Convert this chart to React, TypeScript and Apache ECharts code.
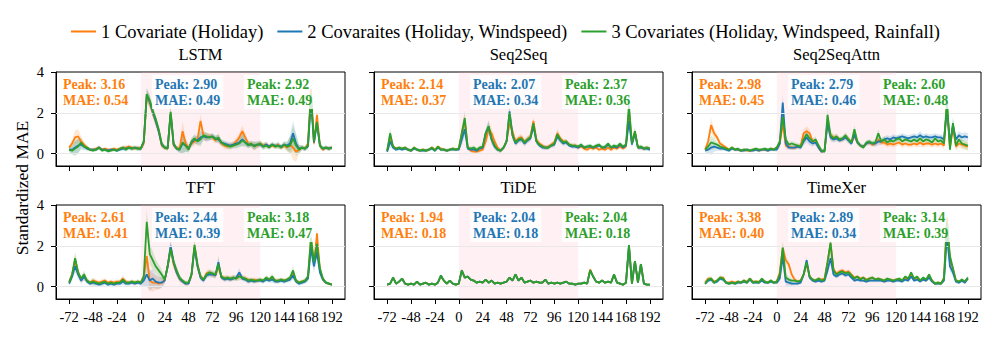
import React, { useEffect, useRef } from 'react';
import * as echarts from 'echarts';

// Hours relative to event start (3-hour steps)
const hours = [
  -72, -69, -66, -63, -60, -57, -54, -51, -48, -45,
  -42, -39, -36, -33, -30, -27, -24, -21, -18, -15,
  -12, -9, -6, -3, 0, 3, 6, 9, 12, 15,
  18, 21, 24, 27, 30, 33, 36, 39, 42, 45,
  48, 51, 54, 57, 60, 63, 66, 69, 72, 75,
  78, 81, 84, 87, 90, 93, 96, 99, 102, 105,
  108, 111, 114, 117, 120, 123, 126, 129, 132, 135,
  138, 141, 144, 147, 150, 153, 156, 159, 162, 165,
  168, 171, 174, 177, 180, 183, 186, 189, 192,
];

const models = ['LSTM', 'Seq2Seq', 'Seq2SeqAttn', 'TFT', 'TiDE', 'TimeXer'];
const seriesNames = [
  '1 Covariate (Holiday)',
  '2 Covaraites (Holiday, Windspeed)',
  '3 Covariates (Holiday, Windspeed, Rainfall)',
];
const colors = ['#ff7f0e', '#1f77b4', '#2ca02c'];
const xTicks = [-72, -48, -24, 0, 24, 48, 72, 96, 120, 144, 168, 192];
const yTicks = [0, 2, 4];
const eventWindow = [0, 120];

const peakValues = [
  [3.16, 2.90, 2.92],
  [2.14, 2.07, 2.37],
  [2.98, 2.79, 2.60],
  [2.61, 2.44, 3.18],
  [1.94, 2.04, 2.04],
  [3.38, 2.89, 3.14],
];
const maeValues = [
  [0.54, 0.49, 0.49],
  [0.37, 0.34, 0.36],
  [0.45, 0.46, 0.48],
  [0.41, 0.39, 0.47],
  [0.18, 0.18, 0.18],
  [0.40, 0.34, 0.39],
];

// ---------- LSTM ----------
const lstmHoliday = [
  0.3, 0.5, 0.8, 0.85, 0.6, 0.45, 0.3, 0.2, 0.2, 0.25,
  0.3, 0.2, 0.25, 0.2, 0.2, 0.25, 0.2, 0.25, 0.3, 0.3,
  0.35, 0.3, 0.25, 0.3, 0.25, 0.5, 2.8, 2.5, 2.0, 1.6,
  1.1, 0.4, 0.3, 0.25, 2.0, 0.4, 0.3, 0.25, 1.1, 0.5,
  0.3, 0.5, 0.6, 0.7, 1.6, 0.9, 0.8, 0.85, 0.8, 0.65,
  0.75, 0.5, 0.4, 0.35, 0.4, 0.45, 0.6, 0.8, 1.1, 0.8,
  0.5, 0.45, 0.4, 0.4, 0.5, 0.4, 0.45, 0.35, 0.4, 0.35,
  0.45, 0.3, 0.4, 0.3, 0.45, 0.3, 0.1, 0.2, 0.3, 0.25,
  0.5, 3.16, 0.5, 1.9, 0.4, 0.2, 0.3, 0.25, 0.3,
];
const lstmWindspeed = [
  0.2, 0.2, 0.3, 0.4, 0.45, 0.35, 0.25, 0.2, 0.2, 0.2,
  0.3, 0.2, 0.2, 0.15, 0.2, 0.2, 0.15, 0.2, 0.25, 0.25,
  0.3, 0.25, 0.3, 0.25, 0.25, 0.6, 2.9, 2.55, 2.05, 1.6,
  1.1, 0.45, 0.3, 0.3, 2.0, 0.45, 0.25, 0.2, 0.5, 0.4,
  0.25, 0.55, 0.7, 0.65, 0.8, 0.85, 0.8, 0.8, 0.85, 0.75,
  0.7, 0.55, 0.5, 0.45, 0.4, 0.45, 0.5, 0.55, 0.7, 0.55,
  0.45, 0.45, 0.4, 0.45, 0.45, 0.35, 0.45, 0.35, 0.45, 0.4,
  0.4, 0.35, 0.45, 0.4, 0.5, 1.0, 0.5, 0.25, 0.3, 0.25,
  0.35, 2.6, 0.55, 1.5, 0.4, 0.25, 0.3, 0.25, 0.3,
];
const lstmRainfall = [
  0.2, 0.15, 0.25, 0.35, 0.55, 0.35, 0.3, 0.2, 0.15, 0.2,
  0.3, 0.15, 0.2, 0.12, 0.15, 0.2, 0.15, 0.25, 0.3, 0.2,
  0.3, 0.25, 0.3, 0.25, 0.25, 0.6, 2.92, 2.6, 2.1, 1.7,
  1.2, 0.5, 0.3, 0.25, 2.05, 0.5, 0.25, 0.2, 0.55, 0.4,
  0.2, 0.6, 0.75, 0.6, 0.7, 0.9, 0.85, 0.8, 0.85, 0.7,
  0.8, 0.55, 0.45, 0.4, 0.35, 0.4, 0.45, 0.5, 0.65, 0.55,
  0.4, 0.5, 0.35, 0.45, 0.5, 0.35, 0.4, 0.3, 0.45, 0.35,
  0.4, 0.3, 0.45, 0.35, 0.4, 0.75, 0.4, 0.2, 0.3, 0.25,
  0.4, 2.92, 0.6, 1.55, 0.4, 0.25, 0.3, 0.25, 0.3,
];
const lstmSpread = [
  0.1, 0.2, 0.35, 0.35, 0.25, 0.15, 0.1, 0.08, 0.08, 0.08,
  0.1, 0.08, 0.08, 0.08, 0.08, 0.08, 0.08, 0.08, 0.1, 0.1,
  0.1, 0.1, 0.1, 0.1, 0.1, 0.2, 0.3, 0.3, 0.25, 0.25,
  0.2, 0.15, 0.1, 0.1, 0.3, 0.15, 0.1, 0.15, 0.5, 0.3,
  0.15, 0.2, 0.2, 0.2, 0.35, 0.2, 0.2, 0.15, 0.15, 0.15,
  0.2, 0.15, 0.15, 0.15, 0.15, 0.15, 0.2, 0.2, 0.3, 0.2,
  0.15, 0.15, 0.2, 0.15, 0.15, 0.15, 0.15, 0.12, 0.12, 0.12,
  0.15, 0.12, 0.15, 0.2, 0.4, 0.6, 0.5, 0.2, 0.12, 0.12,
  0.15, 0.4, 0.2, 0.3, 0.15, 0.1, 0.1, 0.1, 0.1,
];

// ---------- Seq2Seq ----------
const s2sHoliday = [
  0.15, 0.8, 0.35, 0.25, 0.3, 0.25, 0.3, 0.2, 0.15, 0.3,
  0.2, 0.15, 0.2, 0.15, 0.2, 0.3, 0.2, 0.35, 0.25, 0.2,
  0.15, 0.2, 0.25, 0.2, 0.25, 1.0, 1.6, 0.3, 0.15, 0.1,
  0.1, 0.15, 0.2, 0.6, 1.2, 1.0, 0.6, 0.3, 0.15, 0.3,
  0.6, 1.5, 1.1, 0.6, 0.75, 0.8, 0.6, 0.7, 0.85, 1.6,
  0.7, 0.5, 0.4, 0.3, 0.35, 0.45, 0.55, 1.0, 0.75, 0.6,
  0.6, 0.45, 0.4, 0.4, 0.3, 0.35, 0.25, 0.2, 0.3, 0.25,
  0.3, 0.2, 0.25, 0.2, 0.3, 0.2, 0.3, 0.25, 0.35, 0.25,
  0.35, 2.14, 0.5, 1.1, 0.3, 0.3, 0.25, 0.3, 0.25,
];
const s2sWindspeed = [
  0.1, 0.6, 0.3, 0.2, 0.25, 0.2, 0.25, 0.2, 0.15, 0.25,
  0.2, 0.15, 0.15, 0.15, 0.2, 0.25, 0.15, 0.3, 0.2, 0.2,
  0.15, 0.2, 0.2, 0.2, 0.2, 0.7, 1.2, 0.25, 0.2, 0.2,
  0.15, 0.25, 0.3, 1.0, 1.3, 0.7, 0.35, 0.2, 0.15, 0.3,
  0.6, 2.07, 0.9, 0.5, 0.65, 0.7, 0.5, 0.65, 0.75, 1.35,
  0.6, 0.4, 0.3, 0.3, 0.3, 0.4, 0.45, 0.85, 0.65, 0.5,
  0.55, 0.4, 0.35, 0.35, 0.3, 0.4, 0.3, 0.35, 0.35, 0.3,
  0.35, 0.4, 0.3, 0.3, 0.45, 0.3, 0.35, 0.3, 0.45, 0.3,
  0.4, 1.6, 0.45, 1.0, 0.3, 0.3, 0.25, 0.25, 0.2,
];
const s2sRainfall = [
  0.15, 1.0, 0.35, 0.25, 0.3, 0.25, 0.3, 0.2, 0.15, 0.3,
  0.2, 0.15, 0.2, 0.15, 0.2, 0.3, 0.15, 0.35, 0.2, 0.2,
  0.15, 0.2, 0.25, 0.2, 0.25, 1.0, 1.75, 0.3, 0.25, 0.3,
  0.2, 0.3, 0.35, 1.0, 1.35, 0.7, 0.4, 0.2, 0.15, 0.3,
  0.6, 2.0, 0.9, 0.55, 0.7, 0.75, 0.55, 0.7, 0.8, 1.5,
  0.6, 0.45, 0.35, 0.3, 0.3, 0.4, 0.5, 0.95, 0.7, 0.55,
  0.6, 0.45, 0.4, 0.4, 0.35, 0.45, 0.3, 0.35, 0.4, 0.3,
  0.4, 0.45, 0.3, 0.35, 0.5, 0.3, 0.4, 0.35, 0.5, 0.35,
  0.45, 2.37, 0.5, 1.1, 0.3, 0.35, 0.25, 0.3, 0.25,
];
const s2sSpread = [
  0.08, 0.3, 0.1, 0.08, 0.08, 0.08, 0.08, 0.08, 0.08, 0.08,
  0.08, 0.08, 0.08, 0.08, 0.08, 0.08, 0.08, 0.08, 0.08, 0.08,
  0.08, 0.08, 0.08, 0.08, 0.08, 0.3, 0.35, 0.1, 0.1, 0.1,
  0.1, 0.1, 0.1, 0.2, 0.3, 0.25, 0.15, 0.1, 0.1, 0.1,
  0.15, 0.3, 0.2, 0.15, 0.15, 0.15, 0.15, 0.15, 0.15, 0.2,
  0.15, 0.1, 0.1, 0.1, 0.1, 0.1, 0.15, 0.2, 0.15, 0.12,
  0.12, 0.1, 0.1, 0.1, 0.1, 0.1, 0.1, 0.1, 0.1, 0.1,
  0.1, 0.1, 0.1, 0.1, 0.1, 0.1, 0.1, 0.1, 0.1, 0.1,
  0.1, 0.3, 0.15, 0.2, 0.1, 0.1, 0.1, 0.1, 0.1,
];

// ---------- Seq2SeqAttn ----------
const attnHoliday = [
  0.2, 0.6, 1.4, 1.0, 0.8, 0.5, 0.4, 0.3, 0.2, 0.3,
  0.2, 0.2, 0.15, 0.2, 0.15, 0.15, 0.2, 0.2, 0.15, 0.2,
  0.2, 0.15, 0.25, 0.2, 0.3, 0.5, 1.5, 0.4, 0.35, 0.3,
  0.3, 0.35, 0.4, 1.0, 1.1, 1.0, 0.6, 0.6, 0.3, 0.1,
  0.15, 1.6, 0.9, 0.8, 0.8, 0.7, 0.7, 0.85, 0.7, 0.55,
  0.9, 0.55, 0.4, 0.35, 0.5, 0.55, 0.45, 0.5, 0.7, 0.55,
  0.55, 0.45, 0.5, 0.45, 0.5, 0.55, 0.45, 0.5, 0.45, 0.45,
  0.5, 0.45, 0.55, 0.45, 0.5, 0.5, 0.45, 0.5, 0.45, 0.5,
  0.4, 2.4, 0.3, 1.3, 0.35, 0.5, 0.45, 0.4, 0.35,
];
const attnWindspeed = [
  0.15, 0.2, 0.3, 0.35, 0.3, 0.25, 0.25, 0.2, 0.15, 0.25,
  0.2, 0.2, 0.15, 0.15, 0.2, 0.15, 0.15, 0.2, 0.15, 0.2,
  0.2, 0.15, 0.2, 0.2, 0.2, 0.5, 2.5, 0.5, 0.3, 0.3,
  0.3, 0.35, 0.3, 0.6, 0.8, 0.6, 0.5, 0.55, 0.3, 0.1,
  0.15, 1.5, 0.8, 0.7, 0.75, 0.65, 0.7, 0.8, 0.65, 0.5,
  0.95, 0.55, 0.4, 0.35, 0.5, 0.55, 0.5, 0.5, 0.6, 0.6,
  0.7, 0.75, 0.7, 0.8, 0.75, 0.8, 0.85, 0.8, 0.75, 0.8,
  0.85, 0.8, 0.9, 0.8, 0.85, 0.8, 0.8, 0.85, 0.8, 0.8,
  0.7, 2.2, 0.5, 1.4, 0.7, 0.9, 0.8, 0.85, 0.8,
];
const attnRainfall = [
  0.2, 0.35, 0.55, 0.5, 0.45, 0.35, 0.3, 0.25, 0.2, 0.3,
  0.2, 0.25, 0.15, 0.2, 0.2, 0.15, 0.2, 0.25, 0.2, 0.2,
  0.25, 0.2, 0.25, 0.2, 0.3, 0.6, 1.8, 0.7, 0.45, 0.5,
  0.45, 0.4, 0.35, 0.7, 0.95, 0.75, 0.6, 0.7, 0.4, 0.15,
  0.1, 1.9, 0.9, 0.75, 0.85, 0.7, 0.75, 0.9, 0.7, 0.55,
  1.2, 0.6, 0.4, 0.3, 0.55, 0.6, 0.5, 0.55, 1.0, 0.6,
  0.7, 0.55, 0.65, 0.6, 0.7, 0.75, 0.6, 0.7, 0.65, 0.6,
  0.7, 0.6, 0.75, 0.6, 0.7, 0.65, 0.55, 0.75, 0.6, 0.65,
  0.5, 2.6, 0.2, 1.5, 0.4, 0.7, 0.5, 0.45, 0.4,
];
const attnSpread = [
  0.08, 0.2, 0.35, 0.25, 0.15, 0.12, 0.1, 0.08, 0.08, 0.08,
  0.08, 0.08, 0.08, 0.08, 0.08, 0.08, 0.08, 0.08, 0.08, 0.08,
  0.08, 0.08, 0.08, 0.08, 0.1, 0.2, 0.4, 0.2, 0.12, 0.12,
  0.12, 0.12, 0.12, 0.2, 0.25, 0.2, 0.15, 0.15, 0.12, 0.1,
  0.12, 0.35, 0.2, 0.15, 0.15, 0.12, 0.12, 0.15, 0.15, 0.12,
  0.2, 0.12, 0.1, 0.1, 0.12, 0.12, 0.12, 0.15, 0.2, 0.15,
  0.15, 0.15, 0.15, 0.15, 0.15, 0.15, 0.15, 0.15, 0.15, 0.15,
  0.15, 0.15, 0.2, 0.15, 0.15, 0.15, 0.15, 0.15, 0.15, 0.15,
  0.15, 0.45, 0.2, 0.3, 0.2, 0.2, 0.2, 0.2, 0.2,
];

// ---------- TFT ----------
const tftHoliday = [
  0.25, 0.6, 1.3, 0.7, 0.35, 0.5, 0.3, 0.2, 0.3, 0.25,
  0.2, 0.25, 0.3, 0.2, 0.25, 0.2, 0.25, 0.25, 0.4, 0.25,
  0.2, 0.25, 0.2, 0.25, 0.2, 0.5, 1.5, 0.3, 0.2, 0.2,
  0.15, 0.2, 0.3, 1.0, 1.9, 1.1, 0.7, 0.4, 0.25, 0.15,
  0.2, 0.6, 2.0, 1.0, 0.5, 0.35, 0.65, 0.7, 0.6, 0.55,
  1.0, 0.45, 0.45, 0.4, 0.4, 0.45, 0.4, 0.55, 0.45, 0.4,
  0.35, 0.3, 0.35, 0.3, 0.35, 0.3, 0.4, 0.35, 0.45, 0.3,
  0.3, 0.35, 0.3, 0.35, 0.4, 0.6, 0.3, 0.2, 0.25, 0.3,
  0.45, 2.3, 1.1, 2.61, 0.8, 0.35, 0.2, 0.15, 0.1,
];
const tftWindspeed = [
  0.15, 0.5, 1.0, 0.6, 0.3, 0.5, 0.25, 0.15, 0.2, 0.15,
  0.1, 0.15, 0.2, 0.1, 0.15, 0.1, 0.15, 0.15, 0.25, 0.15,
  0.15, 0.2, 0.15, 0.2, 0.15, 0.3, 0.6, 0.3, 0.4, 0.25,
  0.2, 0.2, 0.3, 1.0, 2.0, 1.2, 0.7, 0.4, 0.25, 0.15,
  0.15, 0.6, 1.9, 1.0, 0.45, 0.3, 0.55, 0.6, 0.6, 0.55,
  1.2, 0.45, 0.35, 0.4, 0.35, 0.4, 0.45, 0.7, 0.4, 0.35,
  0.25, 0.3, 0.25, 0.3, 0.3, 0.25, 0.35, 0.3, 0.35, 0.25,
  0.25, 0.3, 0.25, 0.3, 0.35, 0.55, 0.25, 0.15, 0.2, 0.25,
  0.4, 1.9, 1.0, 1.7, 0.7, 0.35, 0.2, 0.15, 0.1,
];
const tftRainfall = [
  0.2, 0.6, 1.4, 0.7, 0.4, 0.6, 0.3, 0.2, 0.25, 0.2,
  0.15, 0.2, 0.25, 0.15, 0.2, 0.15, 0.2, 0.2, 0.35, 0.2,
  0.2, 0.25, 0.2, 0.25, 0.2, 0.5, 3.18, 1.6, 1.3, 1.0,
  0.8, 0.6, 0.35, 1.0, 1.85, 1.2, 0.8, 0.45, 0.3, 0.2,
  0.2, 0.6, 2.05, 1.1, 0.5, 0.35, 0.6, 0.7, 0.65, 0.6,
  1.1, 0.5, 0.4, 0.45, 0.4, 0.45, 0.4, 0.5, 0.45, 0.4,
  0.3, 0.35, 0.3, 0.3, 0.35, 0.3, 0.45, 0.35, 0.5, 0.3,
  0.3, 0.35, 0.3, 0.35, 0.45, 0.8, 0.3, 0.2, 0.25, 0.3,
  0.5, 2.4, 1.2, 2.1, 0.9, 0.4, 0.2, 0.15, 0.1,
];
const tftSpread = [
  0.1, 0.2, 0.3, 0.2, 0.15, 0.2, 0.12, 0.1, 0.15, 0.12,
  0.1, 0.12, 0.12, 0.1, 0.1, 0.1, 0.1, 0.1, 0.15, 0.1,
  0.1, 0.1, 0.1, 0.1, 0.1, 0.25, 0.6, 0.5, 0.45, 0.35,
  0.3, 0.25, 0.15, 0.25, 0.3, 0.25, 0.2, 0.15, 0.1, 0.1,
  0.1, 0.2, 0.25, 0.2, 0.15, 0.12, 0.15, 0.15, 0.15, 0.15,
  0.3, 0.12, 0.12, 0.12, 0.12, 0.12, 0.12, 0.2, 0.12, 0.12,
  0.12, 0.1, 0.1, 0.1, 0.1, 0.1, 0.12, 0.1, 0.15, 0.1,
  0.1, 0.1, 0.1, 0.1, 0.12, 0.2, 0.1, 0.1, 0.1, 0.1,
  0.15, 0.4, 0.3, 0.3, 0.2, 0.1, 0.08, 0.06, 0.05,
];

// ---------- TiDE ----------
const tideHoliday = [
  0.1, 0.15, 0.45, 0.15, 0.25, 0.4, 0.15, 0.1, 0.15, 0.1,
  0.25, 0.1, 0.15, 0.2, 0.1, 0.15, 0.1, 0.2, 0.5, 0.3,
  0.15, 0.3, 0.15, 0.1, 0.15, 0.8, 0.45, 0.5, 0.35, 0.3,
  0.2, 0.25, 0.2, 0.35, 0.2, 0.3, 0.15, 0.2, 0.15, 0.2,
  0.25, 0.45, 0.3, 0.6, 0.3, 0.45, 0.2, 0.25, 0.3, 0.2,
  0.25, 0.2, 0.2, 0.35, 0.15, 0.2, 0.15, 0.2, 0.15, 0.2,
  0.25, 0.15, 0.15, 0.1, 0.15, 0.15, 0.2, 0.15, 0.85, 0.5,
  0.25, 0.2, 0.3, 0.2, 0.25, 0.2, 0.6, 0.2, 0.15, 0.1,
  0.2, 1.94, 0.15, 1.25, 0.2, 1.1, 0.15, 0.1, 0.1,
];
const tideWindspeed = [
  0.1, 0.15, 0.45, 0.15, 0.25, 0.4, 0.15, 0.1, 0.15, 0.1,
  0.25, 0.1, 0.15, 0.2, 0.1, 0.15, 0.1, 0.2, 0.55, 0.3,
  0.15, 0.3, 0.15, 0.1, 0.15, 0.8, 0.45, 0.5, 0.35, 0.3,
  0.2, 0.25, 0.2, 0.35, 0.2, 0.3, 0.15, 0.2, 0.15, 0.2,
  0.25, 0.45, 0.3, 0.6, 0.3, 0.45, 0.2, 0.25, 0.3, 0.2,
  0.25, 0.2, 0.2, 0.35, 0.15, 0.2, 0.15, 0.2, 0.15, 0.2,
  0.25, 0.15, 0.15, 0.1, 0.15, 0.15, 0.2, 0.15, 0.8, 0.5,
  0.25, 0.2, 0.3, 0.2, 0.25, 0.2, 0.6, 0.2, 0.15, 0.1,
  0.2, 2.04, 0.15, 1.25, 0.2, 1.1, 0.15, 0.1, 0.1,
];
const tideRainfall = [
  0.1, 0.15, 0.45, 0.15, 0.25, 0.4, 0.15, 0.1, 0.15, 0.1,
  0.25, 0.1, 0.15, 0.2, 0.1, 0.15, 0.1, 0.2, 0.55, 0.3,
  0.15, 0.3, 0.15, 0.1, 0.15, 0.8, 0.45, 0.5, 0.35, 0.3,
  0.2, 0.25, 0.2, 0.35, 0.2, 0.3, 0.15, 0.2, 0.15, 0.2,
  0.25, 0.45, 0.3, 0.6, 0.3, 0.45, 0.2, 0.25, 0.3, 0.2,
  0.25, 0.2, 0.2, 0.35, 0.15, 0.2, 0.15, 0.2, 0.15, 0.2,
  0.25, 0.15, 0.15, 0.1, 0.15, 0.15, 0.2, 0.15, 0.8, 0.5,
  0.25, 0.2, 0.3, 0.2, 0.25, 0.2, 0.6, 0.2, 0.15, 0.1,
  0.2, 2.04, 0.15, 1.25, 0.2, 1.1, 0.15, 0.1, 0.1,
];
const tideSpread = [
  0.04, 0.04, 0.06, 0.04, 0.04, 0.05, 0.04, 0.04, 0.04, 0.04,
  0.04, 0.04, 0.04, 0.04, 0.04, 0.04, 0.04, 0.04, 0.05, 0.04,
  0.04, 0.04, 0.04, 0.04, 0.04, 0.08, 0.06, 0.06, 0.05, 0.04,
  0.04, 0.04, 0.04, 0.04, 0.04, 0.04, 0.04, 0.04, 0.04, 0.04,
  0.04, 0.05, 0.04, 0.06, 0.04, 0.05, 0.04, 0.04, 0.04, 0.04,
  0.04, 0.04, 0.04, 0.04, 0.04, 0.04, 0.04, 0.04, 0.04, 0.04,
  0.04, 0.04, 0.04, 0.04, 0.04, 0.04, 0.04, 0.04, 0.08, 0.05,
  0.04, 0.04, 0.04, 0.04, 0.04, 0.04, 0.06, 0.04, 0.04, 0.04,
  0.04, 0.1, 0.04, 0.08, 0.04, 0.08, 0.04, 0.04, 0.04,
];

// ---------- TimeXer ----------
const txHoliday = [
  0.2, 0.4, 0.4, 0.25, 0.3, 0.45, 0.45, 0.2, 0.2, 0.25,
  0.2, 0.25, 0.2, 0.3, 0.25, 0.4, 0.25, 0.25, 0.25, 0.35,
  0.25, 0.2, 0.3, 0.2, 0.25, 0.7, 1.9, 1.3, 1.1, 0.6,
  0.35, 0.25, 0.3, 0.6, 1.1, 0.5, 0.35, 0.3, 0.4, 0.35,
  0.4, 1.2, 2.1, 0.85, 0.65, 0.75, 0.8, 0.7, 0.75, 0.6,
  0.45, 0.5, 0.4, 0.45, 0.35, 0.4, 0.45, 0.35, 0.4, 0.35,
  0.3, 0.35, 0.35, 0.3, 0.35, 0.35, 0.3, 0.45, 0.35, 0.6,
  0.35, 0.45, 0.3, 0.4, 0.3, 0.5, 0.3, 0.15, 0.2, 0.15,
  0.45, 3.38, 1.3, 0.9, 0.3, 0.25, 0.3, 0.25, 0.4,
];
const txWindspeed = [
  0.15, 0.3, 0.35, 0.2, 0.25, 0.4, 0.35, 0.2, 0.15, 0.2,
  0.15, 0.2, 0.2, 0.25, 0.2, 0.35, 0.2, 0.2, 0.2, 0.3,
  0.2, 0.2, 0.25, 0.2, 0.2, 0.4, 1.5, 0.25, 0.2, 0.15,
  0.15, 0.15, 0.2, 0.6, 1.3, 0.45, 0.3, 0.25, 0.3, 0.25,
  0.3, 0.8, 1.4, 0.6, 0.5, 0.6, 0.65, 0.55, 0.6, 0.45,
  0.3, 0.35, 0.3, 0.3, 0.25, 0.3, 0.3, 0.3, 0.3, 0.3,
  0.25, 0.3, 0.3, 0.25, 0.3, 0.3, 0.25, 0.35, 0.3, 0.5,
  0.3, 0.35, 0.25, 0.35, 0.3, 0.45, 0.25, 0.15, 0.15, 0.15,
  0.3, 2.5, 1.0, 0.7, 0.25, 0.2, 0.3, 0.2, 0.4,
];
const txRainfall = [
  0.15, 0.35, 0.4, 0.2, 0.3, 0.45, 0.4, 0.2, 0.15, 0.2,
  0.15, 0.25, 0.2, 0.3, 0.2, 0.4, 0.2, 0.25, 0.2, 0.4,
  0.25, 0.2, 0.3, 0.2, 0.25, 0.6, 1.92, 0.45, 0.35, 0.3,
  0.3, 0.25, 0.3, 0.6, 1.2, 0.5, 0.35, 0.3, 0.4, 0.3,
  0.35, 1.2, 2.16, 0.8, 0.6, 0.7, 0.75, 0.65, 0.7, 0.55,
  0.4, 0.5, 0.35, 0.45, 0.3, 0.4, 0.45, 0.35, 0.4, 0.35,
  0.3, 0.4, 0.35, 0.3, 0.35, 0.4, 0.3, 0.5, 0.4, 0.7,
  0.4, 0.5, 0.3, 0.45, 0.35, 0.6, 0.3, 0.15, 0.2, 0.15,
  0.4, 3.14, 1.5, 0.9, 0.3, 0.25, 0.35, 0.25, 0.45,
];
const txSpread = [
  0.08, 0.1, 0.1, 0.08, 0.08, 0.1, 0.1, 0.08, 0.08, 0.08,
  0.08, 0.08, 0.08, 0.08, 0.08, 0.08, 0.08, 0.08, 0.08, 0.08,
  0.08, 0.08, 0.08, 0.08, 0.08, 0.15, 0.3, 0.2, 0.15, 0.1,
  0.08, 0.08, 0.08, 0.12, 0.15, 0.1, 0.08, 0.08, 0.08, 0.08,
  0.08, 0.2, 0.3, 0.12, 0.1, 0.1, 0.1, 0.1, 0.1, 0.08,
  0.08, 0.08, 0.08, 0.08, 0.08, 0.08, 0.08, 0.08, 0.08, 0.08,
  0.08, 0.08, 0.08, 0.08, 0.08, 0.08, 0.08, 0.08, 0.08, 0.08,
  0.08, 0.08, 0.08, 0.08, 0.08, 0.08, 0.08, 0.08, 0.08, 0.08,
  0.08, 0.4, 0.25, 0.15, 0.08, 0.08, 0.08, 0.08, 0.08,
];

const panelValues = [
  [lstmHoliday, lstmWindspeed, lstmRainfall],
  [s2sHoliday, s2sWindspeed, s2sRainfall],
  [attnHoliday, attnWindspeed, attnRainfall],
  [tftHoliday, tftWindspeed, tftRainfall],
  [tideHoliday, tideWindspeed, tideRainfall],
  [txHoliday, txWindspeed, txRainfall],
];
const panelSpread = [lstmSpread, s2sSpread, attnSpread, tftSpread, tideSpread, txSpread];

// ---------- layout ----------
const FONT = "'Liberation Serif', 'Times New Roman', serif";
const colLeft = [56, 374, 692];
const rowTop = [72, 205];
const W = 289;
const H = 94;
const annOffsets = [4, 96, 188];

function bandRenderer(color: string) {
  return (params: any, api: any) => {
    if (params.dataIndexInside !== 0) return null;
    const n = params.dataInsideLength;
    const upper: number[][] = [];
    const lower: number[][] = [];
    for (let i = 0; i < n; i++) {
      const x = api.value(0, i);
      upper.push(api.coord([x, api.value(2, i)]));
      lower.push(api.coord([x, api.value(1, i)]));
    }
    const points = upper.concat(lower.reverse());
    return {
      type: 'polygon',
      shape: { points },
      style: { fill: color, opacity: 0.18 },
      silent: true,
    };
  };
}

function buildOption() {
  const grids: any[] = [];
  const xAxes: any[] = [];
  const yAxes: any[] = [];
  const series: any[] = [];
  const graphics: any[] = [];

  models.forEach((model, k) => {
    const row = Math.floor(k / 3);
    const col = k % 3;
    const left = colLeft[col];
    const top = rowTop[row];
    grids.push({ left, top, width: W, height: H, show: true, borderColor: '#000', borderWidth: 1, backgroundColor: 'transparent' });
    xAxes.push({
      gridIndex: k, type: 'value', min: -85.2, max: 205.2,
      axisLine: { show: true, onZero: false, lineStyle: { color: '#000', width: 1 } },
      axisTick: { show: true, length: 5, customValues: xTicks, lineStyle: { color: '#000', width: 1 } },
      axisLabel: { show: row === 1, customValues: xTicks, margin: 10, fontFamily: FONT, fontSize: 14.5, color: '#000' },
      splitLine: { show: false },
    });
    yAxes.push({
      gridIndex: k, type: 'value', min: -0.6, max: 4,
      axisLine: { show: true, onZero: false, lineStyle: { color: '#000', width: 1 } },
      axisTick: { show: true, length: 5, customValues: yTicks, lineStyle: { color: '#000', width: 1 } },
      axisLabel: { show: col === 0, customValues: yTicks, margin: 12, fontFamily: FONT, fontSize: 14.5, color: '#000' },
      splitLine: { show: false },
    });

    const vals = panelValues[k];
    const spread = panelSpread[k];

    // background: event window + gridlines
    series.push({
      type: 'line', xAxisIndex: k, yAxisIndex: k, silent: true, symbol: 'none', z: 1,
      data: hours.map((h, i) => [h, vals[0][i]]),
      lineStyle: { opacity: 0 },
      markArea: {
        silent: true,
        itemStyle: { color: 'rgba(255,182,193,0.2)' },
        data: [[{ xAxis: eventWindow[0] }, { xAxis: eventWindow[1] }]],
      },
      markLine: {
        silent: true, symbol: 'none', label: { show: false },
        lineStyle: { color: '#e8e8e8', width: 1.2, type: 'solid' },
        data: [{ yAxis: 0 }, { yAxis: 2 }],
      },
    });

    // uncertainty bands
    vals.forEach((v, j) => {
      series.push({
        type: 'custom', xAxisIndex: k, yAxisIndex: k, silent: true, z: 2, clip: true,
        renderItem: bandRenderer(colors[j]),
        encode: { x: 0, y: [1, 2] },
        data: hours.map((h, i) => [h, v[i] - spread[i], v[i] + spread[i]]),
      });
    });

    // main lines
    vals.forEach((v, j) => {
      series.push({
        type: 'line', name: seriesNames[j], xAxisIndex: k, yAxisIndex: k, symbol: 'none', z: 3 + j,
        data: hours.map((h, i) => [h, v[i]]),
        lineStyle: { color: colors[j], width: 1.8 },
        itemStyle: { color: colors[j] },
      });
    });

    // title
    graphics.push({
      type: 'text', x: left + W / 2, y: top - 18, z: 10,
      style: { text: model, fill: '#000', font: `16.5px ${FONT}`, align: 'center', verticalAlign: 'middle' },
    });

    // annotations
    for (let j = 0; j < 3; j++) {
      graphics.push({
        type: 'text', x: left + annOffsets[j], y: top + 3, z: 20,
        style: {
          text: `Peak: ${peakValues[k][j].toFixed(2)}\nMAE: ${maeValues[k][j].toFixed(2)}`,
          fill: colors[j], font: `bold 14px ${FONT}`, lineHeight: 16,
          align: 'left', verticalAlign: 'top',
          backgroundColor: 'rgba(255,255,255,0.8)', padding: [1, 3, 1, 3],
        },
      });
    }
  });

  graphics.push({
    type: 'text', x: 22, y: 188, rotation: Math.PI / 2, z: 10,
    style: { text: 'Standardized MAE', fill: '#000', font: `17.5px ${FONT}`, align: 'center', verticalAlign: 'middle' },
  });

  return {
    animation: false,
    backgroundColor: '#fff',
    legend: {
      data: seriesNames,
      left: 66, top: 17,
      icon: 'rect',
      itemWidth: 25, itemHeight: 2, itemGap: 14,
      textStyle: { fontFamily: FONT, fontSize: 18.5, color: '#000' },
    },
    grid: grids,
    xAxis: xAxes,
    yAxis: yAxes,
    series,
    graphic: graphics,
  };
}

export default function App() {
  const ref = useRef<HTMLDivElement>(null);
  useEffect(() => {
    const chart = echarts.init(ref.current!, null, { renderer: 'svg' });
    chart.setOption(buildOption() as any);
    return () => chart.dispose();
  }, []);
  return (
    <div
      ref={ref}
      style={{ position: 'absolute', left: 0, top: 0, width: 996, height: 346, background: '#fff' }}
    />
  );
}
